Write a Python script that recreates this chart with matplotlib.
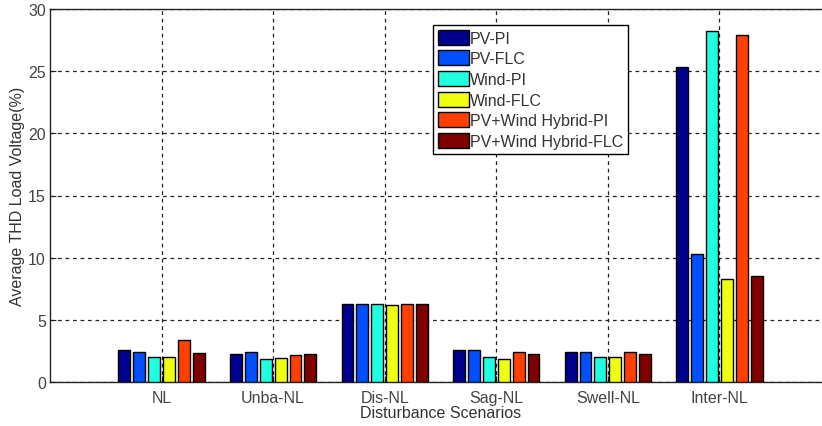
import matplotlib
matplotlib.use("Agg")
import matplotlib.pyplot as plt
import numpy as np

categories = ["NL", "Unba-NL", "Dis-NL", "Sag-NL", "Swell-NL", "Inter-NL"]
series_names = ["PV-PI", "PV-FLC", "Wind-PI", "Wind-FLC",
                "PV+Wind Hybrid-PI", "PV+Wind Hybrid-FLC"]
pv_pi = [2.55, 2.28, 6.3, 2.55, 2.41, 25.3]
pv_flc = [2.41, 2.41, 6.3, 2.55, 2.41, 10.3]
wind_pi = [2.01, 1.88, 6.3, 2.01, 2.01, 28.2]
wind_flc = [2.01, 1.93, 6.17, 1.88, 2.01, 8.3]
hyb_pi = [3.35, 2.14, 6.3, 2.41, 2.41, 27.9]
hyb_flc = [2.36, 2.28, 6.3, 2.28, 2.28, 8.5]
series = [pv_pi, pv_flc, wind_pi, wind_flc, hyb_pi, hyb_flc]
colors = ["#00008F", "#0050FF", "#20FFDF", "#EFFF10", "#FF4000", "#800000"]

plt.rcParams['font.family'] = ['Liberation Sans', 'DejaVu Sans']
FS = 11.5
fig = plt.figure(figsize=(8.22, 4.27), dpi=100)
W, H = 822, 427
x0, x1, y0, y1 = 50, 831, 383, 10
ax = fig.add_axes([x0 / W, 1 - y0 / H, (x1 - x0) / W, (y0 - y1) / H])

n = len(series)
x = np.arange(1, len(categories) + 1)
step = 0.8 / n
bw = step * 0.8
for i, (vals, c, name) in enumerate(zip(series, colors, series_names)):
    off = (i - (n - 1) / 2) * step
    ax.bar(x + off, vals, width=bw, color=c, edgecolor='black',
           linewidth=1.0, label=name, zorder=3)

ax.set_xlim(0, 7)
ax.set_ylim(0, 30)
ax.set_xticks(x)
ax.set_xticklabels(categories)
ax.set_yticks(np.arange(0, 31, 5))
ax.grid(True, color='#222222', linestyle=(0, (3, 3)), linewidth=0.9, zorder=0)
ax.set_axisbelow(True)
ax.tick_params(direction='in', length=4, labelsize=FS, labelcolor='#444444',
               color='#222222')
ax.tick_params(axis='x', pad=6)
ax.tick_params(axis='y', pad=3)
for s in ax.spines.values():
    s.set_color('#222222')
    s.set_linewidth(1.0)
ax.spines['right'].set_visible(False)
ax.set_xlabel("Disturbance Scenarios", fontsize=FS, color='#333333', labelpad=0)
ax.set_ylabel("Average THD Load Voltage(%)", fontsize=FS, color='#333333', labelpad=2)

leg = ax.legend(loc='upper left', bbox_to_anchor=((433 - x0) / (x1 - x0), (y0 - 26) / (y0 - y1)),
                fontsize=FS, frameon=True, fancybox=False, edgecolor='black',
                framealpha=1, handlelength=1.95, handleheight=1.05,
                handletextpad=0.05, labelspacing=0.3, borderpad=0.3,
                borderaxespad=0)
leg.get_frame().set_linewidth(1.0)
for t in leg.get_texts():
    t.set_color('#333333')

fig.savefig("out.png", dpi=100)
